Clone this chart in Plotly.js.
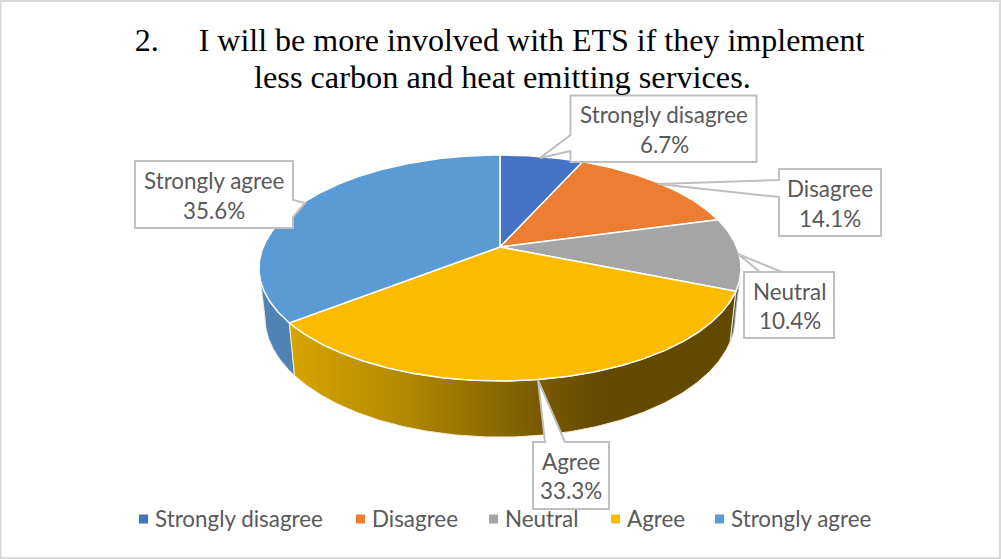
<!DOCTYPE html>
<html>
<head>
<meta charset="utf-8">
<script src="https://cdn.plot.ly/plotly-3.0.1.min.js"></script>
<style>html,body{margin:0;padding:0;background:#fff}#chart{width:1001px;height:559px}</style>
</head>
<body>
<div id="chart"></div>
<script>
// Survey responses, percent of respondents
const categories = ["Strongly disagree", "Disagree", "Neutral", "Agree", "Strongly agree"];
const shares = [6.7, 14.1, 10.4, 33.3, 35.6];
const topColors = ["#4472C4", "#ED7D31", "#A5A5A5", "#FBBC00", "#5B9BD5"];
const titleLines = ["2.\u00a0\u00a0\u00a0\u00a0\u00a0I will be more involved with ETS if they implement",
                    "less carbon and heat emitting services."];

const LABEL_FONT = "Lato, 'Open Sans', sans-serif";
const LABEL_SIZE = 22.4;
const GREY_TEXT = "#595959";
const TITLE_FONT = "'Liberation Serif', 'Times New Roman', serif";

// Perspective disc: a circle tilted away from the viewer, so the far half is foreshortened.
const PERSPECTIVE = 0.1858;
const topFace = {cx: 500, cy: 247, rx: 236.8, ry: 109.1};
const bottomFace = {cx: 500, cy: 295, rx: 231, ry: 115.7};

function project(face, deg) {
  const t = deg * Math.PI / 180, u = Math.sin(t), v = Math.cos(t), w = 1 + PERSPECTIVE * v;
  return [face.cx + face.rx * u / w, face.cy - face.ry * v / w];
}
function arc(face, from, to) {
  const n = Math.max(2, Math.ceil(Math.abs(to - from) * 2)), pts = [];
  for (let i = 0; i <= n; i++) pts.push(project(face, from + (to - from) * i / n));
  return pts;
}

const total = shares.reduce((a, b) => a + b, 0);
const edges = [0];
shares.forEach(s => edges.push(edges[edges.length - 1] + s / total * 360));

// Angle where the rim silhouette turns, limiting the visible wall
const silhouette = Math.acos(-PERSPECTIVE) * 180 / Math.PI;

function wall(from, to, fillProps) {
  const pts = arc(topFace, from, to).concat(arc(bottomFace, to, from));
  pts.push(pts[0]);
  return Object.assign({
    type: "scatter", mode: "lines", fill: "toself",
    x: pts.map(p => p[0]), y: pts.map(p => p[1]),
    line: {color: "#EDEDED", width: 1},
    hoverinfo: "skip", showlegend: false
  }, fillProps);
}

const traces = [];
// Walls of the front-facing slices, back to front
traces.push(wall(silhouette, edges[3], {
  fillcolor: "#5A5A5A", line: {color: "#BDBDBD", width: 1}
}));
traces.push(wall(edges[4], 360 - silhouette, {
  fillcolor: "#4F83B4", line: {color: "#E4ECF4", width: 1}
}));
traces.push(wall(edges[3], edges[4], {
  fillgradient: {
    type: "horizontal",
    start: 289, stop: 736,
    colorscale: [[0, "#D8A500"], [0.27, "#B08700"], [0.55, "#7A5B00"], [0.70, "#634A00"], [1, "#624900"]]
  },
  line: {color: "#F5EBCF", width: 1}
}));

// Top face of every slice
shares.forEach((s, i) => {
  const pts = [[topFace.cx, topFace.cy]].concat(arc(topFace, edges[i], edges[i + 1]));
  pts.push(pts[0]);
  traces.push({
    type: "scatter", mode: "lines", fill: "toself",
    x: pts.map(p => p[0]), y: pts.map(p => p[1]),
    fillcolor: topColors[i], line: {color: "#FFFFFF", width: 1.5},
    hoverinfo: "skip", showlegend: false
  });
});

// Legend row along the bottom: square swatch followed by its category
const legendX = [143.5, 360.5, 493.5, 615.5, 719.5];
const LEGEND_Y = 519;
traces.push({
  type: "scatter", mode: "markers",
  x: legendX, y: legendX.map(() => LEGEND_Y),
  marker: {symbol: "square", size: 9, color: topColors},
  cliponaxis: false, hoverinfo: "skip", showlegend: false
});
traces.push({
  type: "scatter", mode: "text",
  x: legendX.map(x => x + 11.5), y: legendX.map(() => LEGEND_Y + 2.5),
  text: categories,
  textposition: "middle right",
  textfont: {family: LABEL_FONT, size: LABEL_SIZE, color: GREY_TEXT},
  cliponaxis: false, hoverinfo: "skip", showlegend: false
});

// Callout boxes: [left, top, right, bottom], pointer as [start, tip, end], text centre lines
const callouts = [
  {box: [570.5, 95.5, 756.5, 162], ptr: [[570.5, 135], [540, 158], [570.5, 151]], side: "left",  tx: 664, ty: [114, 144]},
  {box: [779, 169, 881, 236],      ptr: [[779, 180], [658, 184], [779, 197]],     side: "left",  tx: 830, ty: [188, 218]},
  {box: [744, 272, 834, 338],      ptr: [[782, 272], [738, 254], [760, 272]],     side: "top",   tx: 789.5, ty: [291, 320]},
  {box: [533, 442, 609, 509],      ptr: [[545, 442], [538, 380], [565, 442]],     side: "top",   tx: 571, ty: [461, 490]},
  {box: [135, 161, 293, 228],      ptr: [[293, 200], [305, 203], [293, 217]],     side: "right", tx: 214, ty: [180, 210]}
];

function calloutPath(c) {
  const [l, t, r, b] = c.box, p = c.ptr;
  const seg = q => `L${q[0]},${q[1]}`;
  if (c.side === "top")   return `M${l},${b}L${l},${t}` + p.map(seg).join("") + `L${r},${t}L${r},${b}Z`;
  if (c.side === "right") return `M${l},${t}L${r},${t}` + p.map(seg).join("") + `L${r},${b}L${l},${b}Z`;
  return `M${r},${t}L${l},${t}` + p.map(seg).join("") + `L${l},${b}L${r},${b}Z`;
}

const shapes = callouts.map(c => ({
  type: "path", xref: "x", yref: "y", layer: "above",
  path: calloutPath(c), fillcolor: "#FFFFFF",
  line: {color: "#BFBFBF", width: 2}
}));
// Outer frame of the chart area
shapes.push({
  type: "rect", xref: "x", yref: "y", layer: "below",
  x0: 0.5, y0: 1, x1: 1000, y1: 558,
  line: {color: "#D9D9D9", width: 2}, fillcolor: "rgba(0,0,0,0)"
});

const annotations = [];
callouts.forEach((c, i) => {
  [categories[i], shares[i].toFixed(1) + "%"].forEach((txt, j) => annotations.push({
    xref: "x", yref: "y", x: c.tx, y: c.ty[j], text: txt, showarrow: false,
    xanchor: "center", yanchor: "middle",
    font: {family: LABEL_FONT, size: LABEL_SIZE, color: GREY_TEXT}
  }));
});
annotations.push({
  xref: "x", yref: "y", x: 502, y: 77, text: titleLines[1], showarrow: false,
  xanchor: "center", yanchor: "middle",
  font: {family: TITLE_FONT, size: 32.3, color: "#000000"}
});

const layout = {
  width: 1001, height: 559,
  margin: {l: 0, r: 0, t: 0, b: 0},
  paper_bgcolor: "#FFFFFF", plot_bgcolor: "#FFFFFF",
  title: {
    text: titleLines[0],
    xref: "paper", yref: "container", x: 0.499, xanchor: "center",
    y: 0.928, yanchor: "middle",
    font: {family: TITLE_FONT, size: 32, color: "#000000"}
  },
  xaxis: {range: [0, 1001], visible: false, fixedrange: true},
  yaxis: {range: [559, 0], visible: false, fixedrange: true},
  showlegend: false,
  shapes: shapes,
  annotations: annotations
};

Plotly.newPlot("chart", traces, layout, {displayModeBar: false, staticPlot: true});
</script>
</body>
</html>
